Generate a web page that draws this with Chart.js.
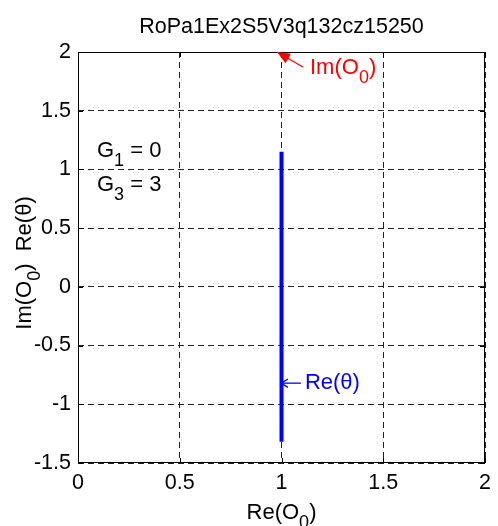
<!DOCTYPE html>
<html>
<head>
<meta charset="utf-8">
<script src="https://cdn.jsdelivr.net/npm/chart.js@4.4.0/dist/chart.umd.min.js"></script>
<style>
  html, body { margin: 0; padding: 0; background: #fff; }
  #wrap { width: 498px; height: 526px; }
</style>
</head>
<body>
<div id="wrap"><canvas id="phaseChart" width="498" height="526"></canvas></div>
<script>
// data
var re_theta_x = [1, 1];
var re_theta_y = [-1.32, 1.15];

var x_ticks = [0, 0.5, 1, 1.5, 2];
var y_ticks = [-1.5, -1, -0.5, 0, 0.5, 1, 1.5, 2];

var chart_title = 'RoPa1Ex2S5V3q132cz15250';

// arrows: [tipX, tipY, tailX, tailY, textX, textY]
var im_arrow = [0.978, 2.0, 1.105, 1.872, 1.14, 1.89];
var re_arrow = [0.998, -0.82, 1.095, -0.82, 1.115, -0.86];

var FONT = '"Liberation Sans", Arial, Helvetica, sans-serif';

function drawRich(ctx, x, y, parts, size, color) {
    // parts: [[text, isSub], ...]
    ctx.fillStyle = color;
    ctx.textBaseline = 'alphabetic';
    ctx.textAlign = 'left';
    var cx = x;
    parts.forEach(function (p) {
        var sub = p[1];
        ctx.font = (sub ? size - 4 : size) + 'px ' + FONT;
        ctx.fillText(p[0], cx, sub ? y + 9 : y);
        cx += ctx.measureText(p[0]).width;
    });
    return cx - x;
}

function richWidth(ctx, parts, size) {
    var w = 0;
    parts.forEach(function (p) {
        ctx.font = (p[1] ? size - 4 : size) + 'px ' + FONT;
        w += ctx.measureText(p[0]).width;
    });
    return w;
}

function arrow(ctx, xs, ys, a, color, filled) {
    var tx = xs.getPixelForValue(a[0]), ty = ys.getPixelForValue(a[1]);
    var sx = xs.getPixelForValue(a[2]), sy = ys.getPixelForValue(a[3]);
    var ang = Math.atan2(ty - sy, tx - sx);
    var hl = filled ? 14 : 8, hw = filled ? 0.4 : 0.55;
    ctx.strokeStyle = color;
    ctx.fillStyle = color;
    ctx.lineWidth = 1.3;
    ctx.beginPath();
    ctx.moveTo(sx, sy);
    ctx.lineTo(tx, ty);
    ctx.stroke();
    ctx.beginPath();
    ctx.moveTo(tx - hl * Math.cos(ang - hw), ty - hl * Math.sin(ang - hw));
    ctx.lineTo(tx, ty);
    ctx.lineTo(tx - hl * Math.cos(ang + hw), ty - hl * Math.sin(ang + hw));
    if (filled) { ctx.closePath(); ctx.fill(); } else { ctx.stroke(); }
}

var matlabLook = {
    id: 'matlabLook',
    afterDraw: function (chart) {
        var ctx = chart.ctx;
        var a = chart.chartArea;
        var xs = chart.scales.x, ys = chart.scales.y;
        ctx.save();

        // box + inward ticks
        ctx.strokeStyle = '#000';
        ctx.lineWidth = 1;
        ctx.strokeRect(a.left + 0.5, a.top + 0.5, a.right - a.left - 1, a.bottom - a.top - 1);
        ctx.beginPath();
        x_ticks.forEach(function (v) {
            var px = Math.round(xs.getPixelForValue(v)) + 0.5;
            ctx.moveTo(px, a.bottom); ctx.lineTo(px, a.bottom - 5);
            ctx.moveTo(px, a.top); ctx.lineTo(px, a.top + 5);
        });
        y_ticks.forEach(function (v) {
            var py = Math.round(ys.getPixelForValue(v)) + 0.5;
            ctx.moveTo(a.left, py); ctx.lineTo(a.left + 5, py);
            ctx.moveTo(a.right, py); ctx.lineTo(a.right - 5, py);
        });
        ctx.stroke();

        // title
        ctx.font = '21.5px ' + FONT;
        ctx.fillStyle = '#000';
        ctx.textAlign = 'center';
        ctx.textBaseline = 'alphabetic';
        ctx.fillText(chart_title, (a.left + a.right) / 2, 33);

        // x label
        var xl = [['Re(O', false], ['0', true], [')', false]];
        var w = richWidth(ctx, xl, 22);
        drawRich(ctx, (a.left + a.right) / 2 - w / 2, 519, xl, 22, '#000');

        // y label (rotated)
        var yl = [['Im(O', false], ['0', true], [')  Re(\u03b8)', false]];
        var wy = richWidth(ctx, yl, 22);
        ctx.save();
        ctx.translate(31, 263 + wy / 2);
        ctx.rotate(-Math.PI / 2);
        drawRich(ctx, 0, 0, yl, 22, '#000');
        ctx.restore();

        // G annotations
        drawRich(ctx, 97, 157, [['G', false], ['1', true], [' = 0', false]], 22, '#000');
        drawRich(ctx, 97, 191, [['G', false], ['3', true], [' = 3', false]], 22, '#000');

        // arrows and their labels
        arrow(ctx, xs, ys, im_arrow, '#ff0000', true);
        drawRich(ctx, xs.getPixelForValue(im_arrow[4]), ys.getPixelForValue(im_arrow[5]) + 9,
            [['Im(O', false], ['0', true], [')', false]], 22, '#ff0000');
        arrow(ctx, xs, ys, re_arrow, '#0000ff', false);
        drawRich(ctx, xs.getPixelForValue(re_arrow[4]), ys.getPixelForValue(re_arrow[5]) + 1,
            [['Re(\u03b8)', false]], 22, '#0000ff');

        ctx.restore();
    }
};

function make_points(xv, yv) {
    var pts = [];
    for (var i = 0; i < xv.length; i++) pts.push({ x: xv[i], y: yv[i] });
    return pts;
}

var ctx = document.getElementById('phaseChart').getContext('2d');
var myChart = new Chart(ctx, {
    type: 'scatter',
    data: {
        datasets: [{
            label: 'Re(theta)',
            data: make_points(re_theta_x, re_theta_y),
            showLine: true,
            borderColor: '#0000ff',
            backgroundColor: '#0000ff',
            borderWidth: 4,
            pointRadius: 0,
            borderCapStyle: 'butt'
        }]
    },
    options: {
        responsive: false,
        animation: false,
        layout: { padding: { top: 52, right: 9, left: 0, bottom: 0 } },
        plugins: {
            legend: { display: false },
            title: { display: false },
            tooltip: { enabled: false }
        },
        scales: {
            x: {
                type: 'linear',
                min: 0, max: 2,
                afterBuildTicks: function (s) { s.ticks = x_ticks.map(function (v) { return { value: v }; }); },
                afterFit: function (s) { s.height = 63; },
                grid: { color: '#222', lineWidth: 1, drawTicks: false },
                border: { display: false, dash: [6, 4] },
                ticks: {
                    color: '#000',
                    padding: 7,
                    maxRotation: 0,
                    font: { family: FONT, size: 21.5 },
                    callback: function (v) { return String(v); }
                }
            },
            y: {
                type: 'linear',
                min: -1.5, max: 2,
                afterBuildTicks: function (s) { s.ticks = y_ticks.map(function (v) { return { value: v }; }); },
                afterFit: function (s) { s.width = 78; },
                grid: { color: '#222', lineWidth: 1, drawTicks: false },
                border: { display: false, dash: [6, 4] },
                ticks: {
                    color: '#000',
                    padding: 7,
                    font: { family: FONT, size: 21.5 },
                    callback: function (v) { return String(v); }
                }
            }
        }
    },
    plugins: [matlabLook]
});
</script>
</body>
</html>
